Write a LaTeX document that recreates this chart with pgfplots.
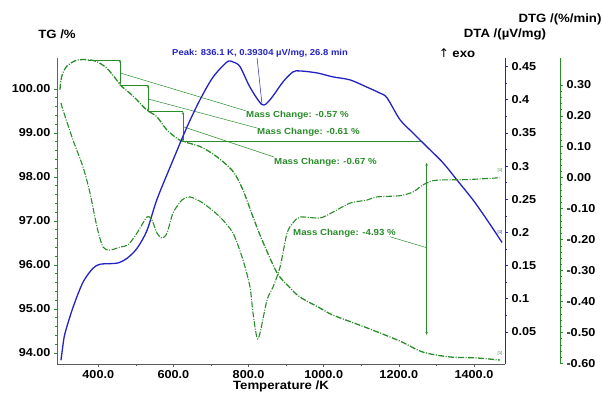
\documentclass[border=0pt]{standalone}
\usepackage{pgfplots}
\pgfplotsset{compat=1.18}
\usetikzlibrary{arrows.meta}
\usepackage{fontspec}
\setmainfont{Liberation Sans}[FakeStretch=1.1]
\newfontfamily\djv{DejaVu Sans}
\definecolor{tgg}{RGB}{40,140,40}
\definecolor{dtab}{RGB}{35,35,195}
\definecolor{axg}{RGB}{90,90,90}
\newcommand\fs[1]{\fontsize{#1}{#1}\selectfont\bfseries}
\begin{document}
\begin{tikzpicture}[x=1pt,y=1pt]
\path[use as bounding box] (0,0) rectangle (603,394);
\pgfplotsset{
  base/.style={at={(57pt,30pt)}, anchor=south west, scale only axis,
    height=306pt, clip=false, xmin=290.1,
    tick label style={font=\fs{11.5}, black},
    tick style={line width=0.6pt},
    tick align=outside,
    major tick length=3pt, minor tick length=2pt,
  },
}
% ---------------- TG axis ----------------
\begin{axis}[base, width=448pt, xmax=1482.6, ymin=93.75, ymax=100.70,
  axis x line*=bottom, axis y line*=left,
  x axis line style={axg, line width=0.8pt, -},
  y axis line style={tgg, line width=0.8pt, -},
  xtick={400,600,...,1400}, xticklabels={400.0,600.0,800.0,1000.0,1200.0,1400.0},
  minor x tick num=1,
  xtick style={axg},
  ytick={94,...,100}, yticklabels={94.00,95.00,96.00,97.00,98.00,99.00,100.00},
  ytick style={tgg}, minor y tick num=4,
]
\addplot[tgg, line width=1.3pt, smooth, tension=0.5,
  dash pattern=on 6pt off 1.5pt on 1pt off 1.5pt] coordinates {
(298,99.98) (302.6,100.28) (315.9,100.51) (342.5,100.65) (373.4,100.66)
(395.7,100.62) (422.4,100.47) (449,100.20) (457.8,100.09) (493.2,99.83)
(528.8,99.52) (555.5,99.37) (582.1,99.07) (608.7,98.88) (626.3,98.80)
(670.7,98.69) (715.2,98.46) (759,98.12) (785.2,97.70) (811.8,97.09)
(835.8,96.57) (875.8,95.82) (910.4,95.48) (937,95.27) (990.2,95.02)
(1024.8,94.86) (1115.3,94.57) (1203.1,94.27) (1264.3,94.02) (1336,93.91)
(1402.8,93.89) (1469.4,93.84)};
% mass change markers
\tikzset{ar/.style={tgg, line width=0.5pt, {Stealth[length=3pt,width=2.4pt]}-{Stealth[length=3pt,width=2.4pt]}}}
\draw[tgg, line width=0.5pt] (axis cs:373,100.66) -- (axis cs:458,100.66);
\draw[ar] (axis cs:458,100.66) -- (axis cs:458,100.09);
\draw[tgg, line width=0.5pt] (axis cs:458,100.09) -- (axis cs:532.6,100.09);
\draw[ar] (axis cs:532.6,100.09) -- (axis cs:532.6,99.48);
\draw[tgg, line width=0.5pt] (axis cs:532.6,99.48) -- (axis cs:625.5,99.48);
\draw[ar] (axis cs:625.5,99.48) -- (axis cs:625.5,98.80);
\draw[tgg, line width=0.5pt] (axis cs:625.5,98.80) -- (axis cs:1261,98.80);
\draw[ar] (axis cs:1274,98.32) -- (axis cs:1274,94.41);
% leaders
\draw[tgg, line width=0.5pt] (axis cs:458,100.36) -- (axis cs:793,99.50);
\draw[tgg, line width=0.5pt] (axis cs:532.6,99.77) -- (axis cs:822.7,99.11);
\draw[tgg, line width=0.5pt] (axis cs:625.5,99.14) -- (axis cs:868.2,98.45);
\draw[tgg, line width=0.5pt] (axis cs:1274.6,96.39) -- (axis cs:1176.5,96.64);
\end{axis}
% ---------------- DTA axis ----------------
\begin{axis}[base, width=448pt, xmax=1482.6, ymin=0.0017, ymax=0.463,
  hide x axis, axis y line*=right,
  y axis line style={dtab, line width=0.8pt, -},
  ytick={0.05,0.1,...,0.451},
  yticklabels={0.05,0.1,0.15,0.2,0.25,0.3,0.35,0.4,0.45},
  minor y tick num=1, ytick style={dtab},
]
\addplot[dtab, line width=1.3pt, smooth, tension=0.5] coordinates {
(300.7,0.0073) (305.5,0.028) (311.4,0.048) (332.7,0.087) (359.3,0.125) (385.9,0.146)
(404.5,0.152) (431.1,0.153) (452.4,0.154) (476.4,0.161) (503,0.176)
(529.6,0.203) (556.3,0.250) (598.9,0.309) (636.1,0.359) (670.7,0.400)
(705.3,0.434) (742.6,0.457) (758.6,0.457) (777.2,0.450) (803.8,0.419)
(835.8,0.3928) (857.1,0.400) (891.7,0.427) (918.3,0.442) (937,0.4435)
(982.3,0.4405) (1024.8,0.4345) (1070.1,0.430) (1115.3,0.419) (1149.9,0.410)
(1168.5,0.403) (1203.1,0.370) (1237.7,0.350) (1275,0.329) (1317.6,0.305)
(1354.9,0.279) (1397.5,0.249) (1434.7,0.219) (1474.7,0.185)};
\draw[dtab, line width=0.5pt] (axis cs:822.7,0.463) -- (axis cs:835.8,0.393);
\end{axis}
% ---------------- DTG axis ----------------
\begin{axis}[base, width=503pt, xmax=1629.0, ymin=-0.602, ymax=0.387,
  hide x axis, axis y line*=right,
  y axis line style={tgg, line width=0.8pt, -},
  ytick={-0.6,-0.5,...,0.31},
  yticklabels={-0.60,-0.50,-0.40,-0.30,-0.20,-0.10,0.00,0.10,0.20,0.30},
  minor y tick num=4, ytick style={tgg},
]
\addplot[tgg, line width=1.1pt, smooth, tension=0.45,
  dash pattern=on 6pt off 1.5pt on 1pt off 1.5pt] coordinates {
(300.7,0.242) (306,0.219) (332.7,0.122) (359.3,0.035) (377.9,-0.049)
(396.5,-0.159) (412.5,-0.224) (431.1,-0.234) (457.8,-0.224) (479.1,-0.217)
(503,-0.179) (529.6,-0.127) (542.9,-0.137) (556.3,-0.179) (569.6,-0.195)
(582.9,-0.179) (598.9,-0.114) (622.8,-0.072) (644.1,-0.062) (678.7,-0.082)
(724,-0.127) (758.6,-0.179) (785.2,-0.266) (803.8,-0.353) (811.8,-0.437)
(822.5,-0.518) (830.5,-0.502) (849.2,-0.395) (865.1,-0.353) (883.8,-0.289)
(902.4,-0.179) (918.3,-0.146) (937,-0.127) (990.2,-0.130) (1024.8,-0.111)
(1070.1,-0.082) (1115.3,-0.072) (1141.9,-0.062) (1203.1,-0.058) (1237.7,-0.046)
(1264,-0.023) (1290,-0.010) (1317.6,-0.007) (1381.5,-0.006) (1469.4,0.000)};
\end{axis}
% ---------------- texts ----------------
\node[font=\fs{12}] at (57,360) {TG /\%};
\node[font=\fs{12}] at (505,360) {DTA /(µV/mg)};
\node[font=\fs{12}] at (560,375) {DTG /(\%/min)};
\node[font=\fs{12}] at (457,341) {{\djv\mdseries ↑} exo};
\node[font=\fs{12}] at (281,8) {Temperature /K};
\node[font=\fs{8.6}, text=dtab, anchor=west, inner sep=0pt] at (172,341) {Peak: 836.1 K, 0.39304 µV/mg, 26.8 min};
\node[font=\fs{8.8}, text=tgg, anchor=west, inner sep=0pt] at (246,279) {Mass Change: -0.57 \%};
\node[font=\fs{8.8}, text=tgg, anchor=west, inner sep=0pt] at (257,262) {Mass Change: -0.61 \%};
\node[font=\fs{8.8}, text=tgg, anchor=west, inner sep=0pt] at (274,232) {Mass Change: -0.67 \%};
\node[font=\fs{8.8}, text=tgg, anchor=west, inner sep=0pt] at (293,161) {Mass Change: -4.93 \%};
\node[font=\fontsize{4}{4}\selectfont, text=tgg, inner sep=0pt] at (500,224) {[1]};
\node[font=\fontsize{4}{4}\selectfont, text=dtab, inner sep=0pt] at (500,162) {[1]};
\node[font=\fontsize{4}{4}\selectfont, text=tgg, inner sep=0pt] at (500,41) {[1]};
\end{tikzpicture}
\end{document}
